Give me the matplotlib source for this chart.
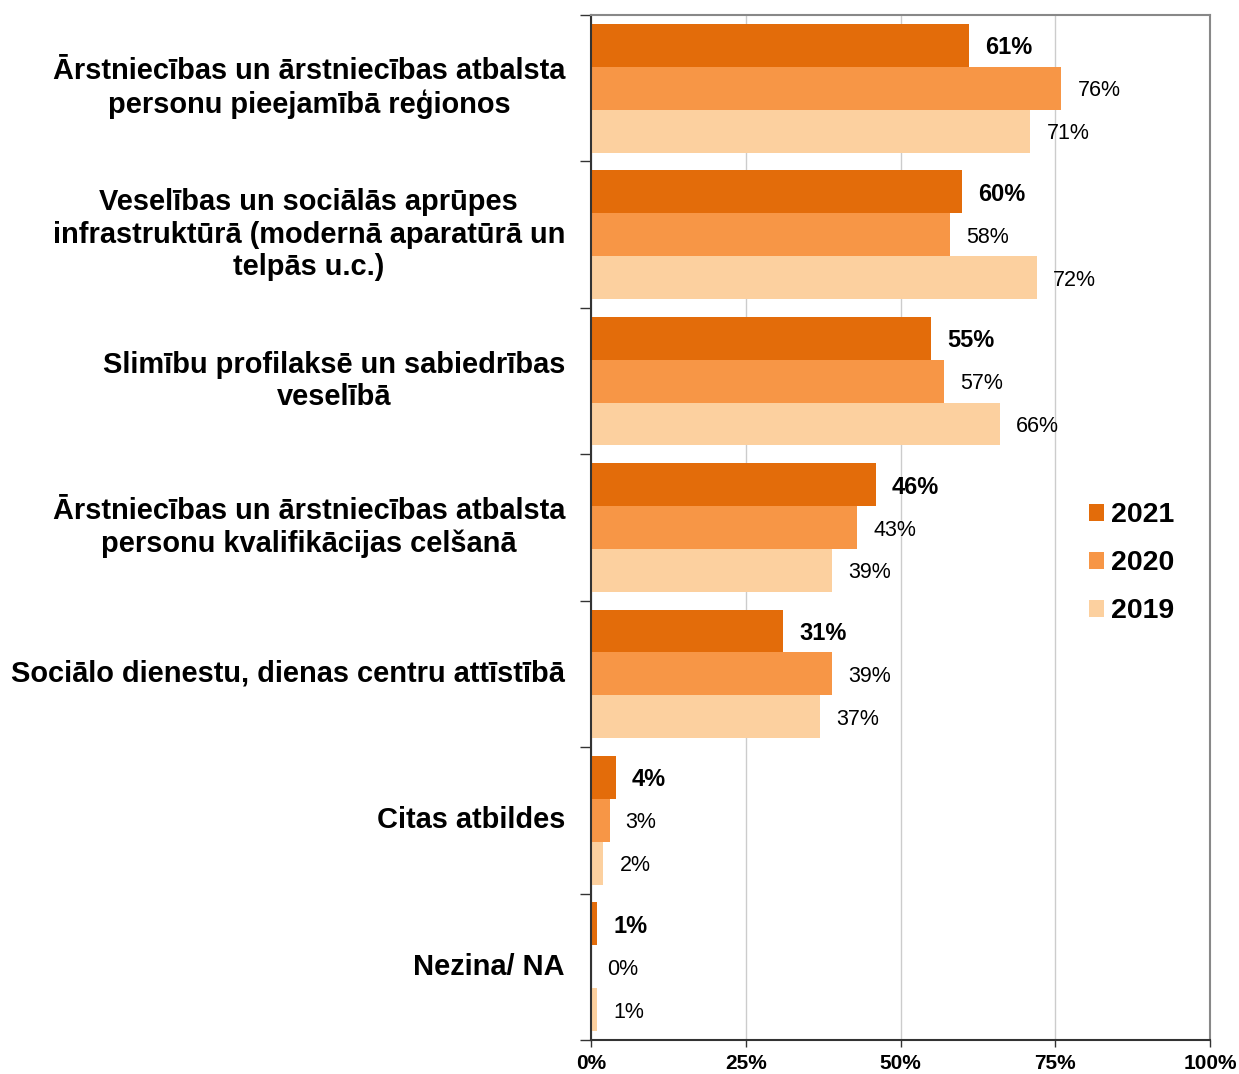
import matplotlib.pyplot as plt
import numpy as np
from matplotlib.patches import Patch

plt.rcParams['font.family'] = ['Liberation Sans', 'DejaVu Sans']

categories = [
    "Ārstniecības un ārstniecības atbalsta\npersonu pieejamībā reģionos",
    "Veselības un sociālās aprūpes\ninfrastruktūrā (modernā aparatūrā un\ntelpās u.c.)",
    "Slimību profilaksē un sabiedrības\nveselībā",
    "Ārstniecības un ārstniecības atbalsta\npersonu kvalifikācijas celšanā",
    "Sociālo dienestu, dienas centru attīstībā",
    "Citas atbildes",
    "Nezina/ NA",
]
years = ["2021", "2020", "2019"]
v2021 = [61, 60, 55, 46, 31, 4, 1]
v2020 = [76, 58, 57, 43, 39, 3, 0]
v2019 = [71, 72, 66, 39, 37, 2, 1]
colors = ["#e36c0a", "#f79646", "#fcd09f"]

series = [v2021, v2020, v2019]

fig = plt.figure(figsize=(12.39, 10.74), dpi=100)
ax = fig.add_axes([591 / 1239, 1 - 1040 / 1074, 619 / 1239, 1025 / 1074])

y = np.arange(len(categories))
h = 0.293
for k, (vals, col) in enumerate(zip(series, colors)):
    pos = y + (k - 1) * h
    ax.barh(pos, vals, height=h, color=col, zorder=2)
    for p, v in zip(pos, vals):
        ax.text(v + 2.6, p, f"{v}%", va="center_baseline", ha="left",
                fontsize=17 if k == 0 else 15.5,
                fontweight="bold" if k == 0 else "normal", color="black")

ax.set_xlim(0, 100)
ax.set_ylim(len(categories) - 0.5, -0.5)
ax.set_xticks([0, 25, 50, 75, 100])
ax.set_xticklabels(["0%", "25%", "50%", "75%", "100%"], fontsize=15, fontweight="bold")
ax.xaxis.grid(True, color="#cccccc", linewidth=1, zorder=0)
ax.set_axisbelow(True)

# category boundaries as tick marks on the left spine
ax.set_yticks(np.arange(len(categories) + 1) - 0.5)
ax.set_yticklabels([])
ax.tick_params(axis="y", length=8, width=1, color="#333333")
ax.tick_params(axis="x", length=5, width=1, color="#333333", pad=5)
for i, c in enumerate(categories):
    ax.text(-0.042, i, c, transform=ax.get_yaxis_transform(), ha="right",
            va="center", fontsize=20.9, fontweight="bold", multialignment="center",
            linespacing=1.2)

ax.spines["left"].set_color("#333333")
ax.spines["bottom"].set_color("#333333")
ax.spines["top"].set_color("#888888")
ax.spines["right"].set_color("#888888")
for s in ax.spines.values():
    s.set_linewidth(1.5)

handles = [Patch(facecolor=c, edgecolor="none") for c in colors]
ax.legend(handles, years, loc="center left", bbox_to_anchor=(0.782, 0.465),
          frameon=False, prop={"weight": "bold", "size": 20.5}, borderpad=0,
          handlelength=0.52, handleheight=0.52, handletextpad=0.25,
          labelspacing=0.77)

fig.savefig("out.png", dpi=100)
